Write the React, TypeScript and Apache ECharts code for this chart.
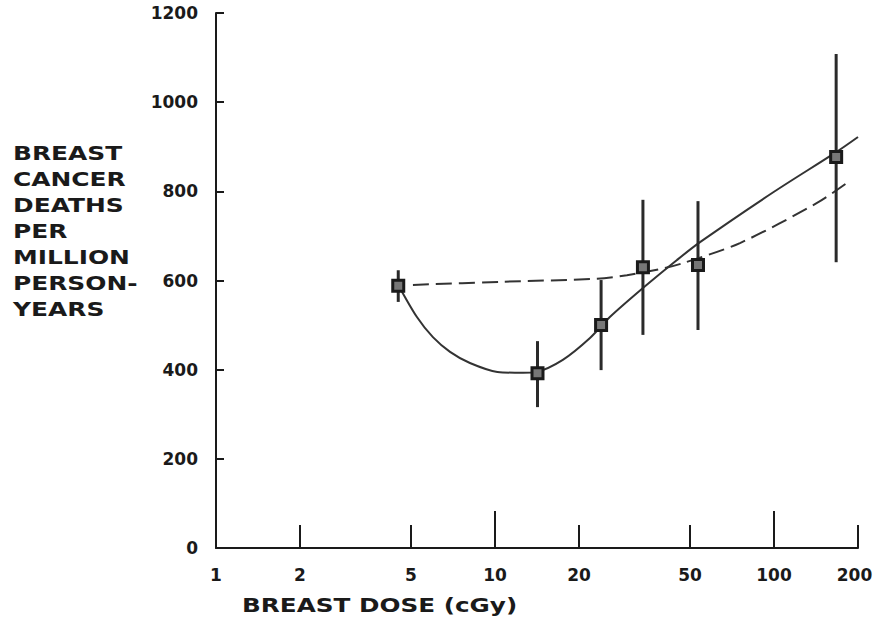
import React, { useEffect, useRef } from "react";
import * as echarts from "echarts";

// axis ticks
const doseLabels = [1, 2, 5, 10, 20, 50, 100, 200];
const shortTicks = [2, 5, 20, 50, 200];
const longTicks = [10, 100];

// observed points with error bars
const doses = [4.5, 14.2, 24.0, 33.9, 53.4, 167];
const deaths = [588, 392, 500, 630, 635, 877];
const ciLow = [552, 316, 399, 478, 489, 641];
const ciHigh = [623, 464, 601, 781, 778, 1108];

// solid fitted curve
const fitDose = [4.5, 5.25, 5.99, 6.9, 8.13, 10.2, 12.6, 14.1, 17.5, 21.9, 25.8, 33.9, 44.9, 54.3, 100, 167, 200];
const fitDeaths = [590, 518, 473, 440, 415, 395, 393, 395, 422, 471, 518, 583, 646, 686, 799, 888, 922];

// dashed linear curve
const linDose = [5.08, 10.4, 23.2, 29.7, 40.6, 47.2, 75.5, 142.6, 182.6];
const linDeaths = [590, 597, 604, 612, 628, 639, 684, 774, 819];

const yTitle = ["BREAST", "CANCER", "DEATHS", "PER", "MILLION", "PERSON-", "YEARS"];
const xTitle = "BREAST DOSE (cGy)";

const FONT = '"DejaVu Sans", sans-serif';
const INK = "#1a1a1a";

export default function App() {
  const ref = useRef<HTMLDivElement>(null);
  useEffect(() => {
    if (!ref.current) return;
    const chart = echarts.init(ref.current, null, { renderer: "svg" });
    const xBase = {
      type: "log",
      logBase: 10,
      min: 1,
      max: 200,
      gridIndex: 0,
      position: "bottom",
      splitLine: { show: false },
      minorTick: { show: false },
    };
    const option: any = {
      animation: false,
      backgroundColor: "#ffffff",
      grid: {
        left: 216,
        right: 15,
        top: 13,
        bottom: 72,
        containLabel: false,
        outerBoundsMode: "none",
      },
      xAxis: [
        {
          ...xBase,
          axisLine: { show: true, lineStyle: { color: INK, width: 2 } },
          axisTick: {
            show: true,
            inside: true,
            length: 23,
            customValues: shortTicks,
            lineStyle: { color: INK, width: 2 },
          },
          axisLabel: {
            show: true,
            customValues: doseLabels,
            margin: 18,
            color: INK,
            fontFamily: FONT,
            fontWeight: "bold",
            fontSize: 17,
            formatter: (v: number) => {
              const s = String(Math.round(v));
              return Math.round(v) === 200 ? `{last|${s}}` : s;
            },
            rich: {
              last: {
                color: INK,
                fontFamily: FONT,
                fontWeight: "bold",
                fontSize: 17,
                padding: [0, 7, 0, 0],
              },
            },
          },
        },
        {
          ...xBase,
          axisLine: { show: false },
          axisTick: {
            show: true,
            inside: true,
            length: 37,
            customValues: longTicks,
            lineStyle: { color: INK, width: 2 },
          },
          axisLabel: { show: false },
        },
      ],
      yAxis: {
        type: "value",
        min: 0,
        max: 1200,
        interval: 200,
        splitLine: { show: false },
        axisLine: { show: true, lineStyle: { color: INK, width: 2 } },
        axisTick: { show: true, inside: true, length: 8, lineStyle: { color: INK, width: 2 } },
        axisLabel: {
          color: INK,
          fontFamily: FONT,
          fontWeight: "bold",
          fontSize: 17,
          margin: 18,
          formatter: (v: number) => String(v),
        },
      },
      graphic: [
        ...yTitle.map((t, i) => ({
          type: "text",
          x: 13,
          y: 153 + i * 26,
          scaleX: 1.31,
          style: {
            text: t,
            font: `bold 19px ${FONT}`,
            fill: INK,
            textAlign: "left",
            textVerticalAlign: "middle",
          },
        })),
        {
          type: "text",
          x: 242,
          y: 606,
          scaleX: 1.3,
          style: {
            text: xTitle,
            font: `bold 19px ${FONT}`,
            fill: INK,
            textAlign: "left",
            textVerticalAlign: "middle",
          },
        },
      ],
      series: [
        {
          type: "line",
          xAxisIndex: 0,
          data: linDose.map((d, i) => [d, linDeaths[i]]),
          smooth: 0.3,
          showSymbol: false,
          lineStyle: { color: "#333", width: 2, type: [16, 7] },
          z: 2,
        },
        {
          type: "line",
          xAxisIndex: 0,
          data: fitDose.map((d, i) => [d, fitDeaths[i]]),
          smooth: 0.3,
          showSymbol: false,
          lineStyle: { color: "#333", width: 2 },
          z: 2,
        },
        {
          type: "custom",
          xAxisIndex: 0,
          data: doses.map((d, i) => [d, ciLow[i], ciHigh[i]]),
          renderItem: (params: any, api: any) => {
            const lo = api.coord([api.value(0), api.value(1)]);
            const hi = api.coord([api.value(0), api.value(2)]);
            return {
              type: "line",
              shape: { x1: lo[0], y1: lo[1], x2: hi[0], y2: hi[1] },
              style: { stroke: "#2a2a2a", lineWidth: 3 },
            };
          },
          z: 3,
        },
        {
          type: "scatter",
          xAxisIndex: 0,
          data: doses.map((d, i) => [d, deaths[i]]),
          symbol: "rect",
          symbolSize: 11,
          itemStyle: { color: "#777777", borderColor: "#1a1a1a", borderWidth: 3, opacity: 1 },
          z: 4,
        },
      ],
    };
    chart.setOption(option);
    return () => chart.dispose();
  }, []);
  return (
    <div
      ref={ref}
      style={{ position: "fixed", left: 0, top: 0, width: 873, height: 620, background: "#fff" }}
    />
  );
}
